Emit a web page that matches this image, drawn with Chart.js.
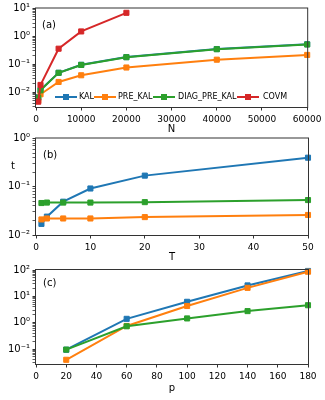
<!DOCTYPE html>
<html><head><meta charset="utf-8">
<script src="https://cdn.jsdelivr.net/npm/chart.js@4/dist/chart.umd.min.js"></script>
<style>
html,body{margin:0;padding:0;background:#fff;}
body{width:325px;height:400px;position:relative;overflow:hidden;font-family:"DejaVu Sans",sans-serif;}
.panel{position:absolute;left:0;width:325px;}
.panel canvas{display:block;}
.lbl{position:absolute;font-size:10px;color:#000;line-height:12px;white-space:nowrap;}
.lgl{position:absolute;height:2px;}
.lgm{position:absolute;width:6px;height:6px;}
.lgt{position:absolute;font-size:8px;line-height:10px;color:#000;white-space:nowrap;}
</style></head>
<body>
<div class="panel" style="top:0;height:135px"><canvas id="ca" width="325" height="135"></canvas></div>
<div class="panel" style="top:130px;height:130px"><canvas id="cb" width="325" height="130"></canvas></div>
<div class="panel" style="top:260px;height:140px"><canvas id="cc" width="325" height="140"></canvas></div>
<div class="lbl" style="left:42px;top:19px">(a)</div>
<div class="lbl" style="left:43px;top:149px">(b)</div>
<div class="lbl" style="left:43px;top:277px">(c)</div>
<div class="lbl" style="left:11px;top:160px">t</div>
<div id="legend"></div>
<script>
// ---- data ----
const seriesNames = ['KAL', 'PRE_KAL', 'DIAG_PRE_KAL', 'COVM'];
// panel (a): time vs N
const nValues = [500, 1000, 5000, 10000, 20000, 40000, 60000];
const nValuesCovm = [500, 1000, 5000, 10000, 20000];
const aKAL  = [0.0065, 0.012, 0.049, 0.095, 0.18, 0.35, 0.52];
const aPRE  = [0.005, 0.0083, 0.023, 0.040, 0.076, 0.145, 0.215];
const aDIAG = [0.0062, 0.0115, 0.049, 0.094, 0.178, 0.345, 0.51];
const aCOVM = [0.0045, 0.018, 0.36, 1.5, 7.0];
// panel (b): time vs T
const tValues = [1, 2, 5, 10, 20, 50];
const bKAL  = [0.017, 0.024, 0.049, 0.092, 0.17, 0.40];
const bPRE  = [0.021, 0.022, 0.022, 0.022, 0.0235, 0.026];
const bDIAG = [0.046, 0.047, 0.047, 0.047, 0.048, 0.053];
// panel (c): time vs p
const pValues = [20, 60, 100, 140, 180];
const cKAL  = [0.094, 1.4, 6.2, 26, 92];
const cPRE  = [0.039, 0.75, 4.3, 21, 86];
const cDIAG = [0.095, 0.73, 1.45, 2.75, 4.6];
// axis ranges / ticks
const xTicksA = {min: 0, max: 60000, step: 10000};
const xTicksB = {min: 0, max: 50, step: 10};
const xTicksC = {min: 0, max: 180, step: 20};
const yRangeA = {min: 0.0029, max: 10};
const yRangeB = {min: 0.01, max: 1};
const yRangeC = {min: 0.027, max: 100};

// ---- styles ----
const colors = ['#1f77b4', '#ff7f0e', '#2ca02c', '#d62728'];
const FONT = "'DejaVu Sans', sans-serif";
Chart.defaults.font.family = FONT;
Chart.defaults.color = '#000';

const SUP = {'-':'\u207B','0':'\u2070','1':'\u00B9','2':'\u00B2','3':'\u00B3','4':'\u2074','5':'\u2075','6':'\u2076','7':'\u2077','8':'\u2078','9':'\u2079'};
function isPow10(v){ const l = Math.log10(v); return Math.abs(l - Math.round(l)) < 1e-9; }
function sup(v){ const e = String(Math.round(Math.log10(v))); return '10' + e.split('').map(c => SUP[c]).join(''); }
function logTicks(min, max){
  const out = [];
  for (let e = Math.floor(Math.log10(min)); e <= Math.ceil(Math.log10(max)); e++) {
    for (let m = 1; m <= 9; m++) {
      const v = parseFloat((m * Math.pow(10, e)).toPrecision(6));
      if (v >= min * 0.9999 && v <= max * 1.0001) out.push(v);
    }
  }
  return out;
}

const framePlugin = {
  id: 'frame',
  afterDraw(chart) {
    const {ctx, chartArea: a} = chart;
    ctx.save();
    ctx.strokeStyle = '#333';
    ctx.lineWidth = 1;
    ctx.strokeRect(a.left - 0.5, a.top - 0.5, a.right - a.left + 1, a.bottom - a.top + 1);
    ctx.restore();
  }
};

function ds(label, xs, ys, color, order) {
  return {
    label, order,
    data: xs.map((x, i) => ({x, y: ys[i]})),
    borderColor: color, backgroundColor: color,
    borderWidth: 2, tension: 0,
    pointStyle: 'rect', pointRadius: 3.6, pointHoverRadius: 3.6,
    pointBackgroundColor: color, pointBorderColor: color, pointBorderWidth: 1,
    clip: false
  };
}

function makeChart(id, datasets, xr, yr, xTitle, xHeight, titlePadBottom, padTop) {
  return new Chart(document.getElementById(id), {
    type: 'line',
    data: {datasets},
    plugins: [framePlugin],
    options: {
      responsive: false, animation: false,
      layout: {padding: {top: padTop, right: 17, left: 0, bottom: 0}},
      plugins: {legend: {display: false}, tooltip: {enabled: false}},
      scales: {
        x: {
          type: 'linear', min: xr.min, max: xr.max,
          afterFit: s => { s.height = xHeight; },
          ticks: {stepSize: xr.step, autoSkip: false, maxRotation: 0, padding: 3.5,
                  color: '#000', font: {size: 9}, callback: v => String(v)},
          grid: {drawOnChartArea: false, drawTicks: true, tickLength: 3.5, tickColor: '#333', tickWidth: 1},
          border: {display: false},
          title: {display: true, text: xTitle, color: '#000', font: {size: 10},
                  padding: {top: 0, bottom: titlePadBottom}}
        },
        y: {
          type: 'logarithmic', min: yr.min, max: yr.max,
          afterBuildTicks: s => { s.ticks = logTicks(s.min, s.max).map(v => ({value: v, major: isPow10(v)})); },
          afterFit: s => { s.width = 36; },
          ticks: {autoSkip: false, padding: 2.5, color: '#000', font: {size: 10},
                  callback: v => isPow10(v) ? sup(v) : ''},
          grid: {drawOnChartArea: false, drawTicks: true, tickLength: 3.5, tickColor: '#333',
                 tickWidth: c => (c.tick && isPow10(c.tick.value)) ? 1 : 0.8},
          border: {display: false}
        }
      }
    }
  });
}

makeChart('ca', [
  ds(seriesNames[0], nValues, aKAL, colors[0], 4),
  ds(seriesNames[1], nValues, aPRE, colors[1], 3),
  ds(seriesNames[2], nValues, aDIAG, colors[2], 2),
  ds(seriesNames[3], nValuesCovm, aCOVM, colors[3], 1)
], xTicksA, yRangeA, 'N', 28, 0, 8);

makeChart('cb', [
  ds(seriesNames[0], tValues, bKAL, colors[0], 4),
  ds(seriesNames[1], tValues, bPRE, colors[1], 3),
  ds(seriesNames[2], tValues, bDIAG, colors[2], 2)
], xTicksB, yRangeB, 'T', 25, -3.8, 7);

makeChart('cc', [
  ds(seriesNames[0], pValues, cKAL, colors[0], 4),
  ds(seriesNames[1], pValues, cPRE, colors[1], 3),
  ds(seriesNames[2], pValues, cDIAG, colors[2], 2)
], xTicksC, yRangeC, 'p', 36, 6, 10);

// legend for panel (a), inside plot area
const legendHandleX = [55, 94, 153, 237];
const legendTextX = [79, 118, 178, 263];
const legendY = 97;
const lg = document.getElementById('legend');
seriesNames.forEach((name, i) => {
  const line = document.createElement('div');
  line.className = 'lgl';
  line.style.cssText = `left:${legendHandleX[i]}px;top:${legendY - 1}px;width:22px;background:${colors[i]}`;
  const mk = document.createElement('div');
  mk.className = 'lgm';
  mk.style.cssText = `left:${legendHandleX[i] + 8}px;top:${legendY - 3}px;background:${colors[i]}`;
  const tx = document.createElement('div');
  tx.className = 'lgt';
  tx.style.cssText = `left:${legendTextX[i]}px;top:${legendY - 5}px`;
  tx.textContent = name;
  lg.appendChild(line); lg.appendChild(mk); lg.appendChild(tx);
});
</script>
</body></html>
